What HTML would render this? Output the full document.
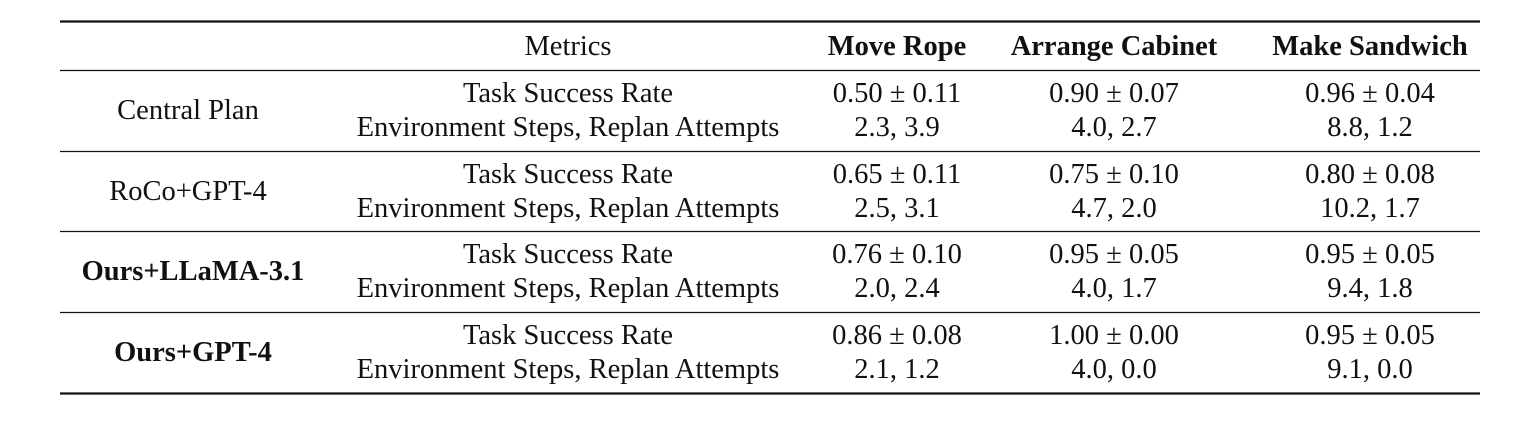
<!DOCTYPE html>
<html><head><meta charset="utf-8"><style>
html,body{margin:0;padding:0;background:#fff;}
svg{display:block;font-family:"Liberation Serif","Times New Roman",serif;}
text{font-size:28.5px;fill:#111;text-anchor:middle;}
.b{font-weight:bold;}
</style></head><body>
<svg width="1536" height="424" viewBox="0 0 1536 424">
<line x1="60" y1="21.5" x2="1480" y2="21.5" stroke="#111" stroke-width="2.2"/>
<line x1="60" y1="70.5" x2="1480" y2="70.5" stroke="#111" stroke-width="1.2"/>
<line x1="60" y1="151.5" x2="1480" y2="151.5" stroke="#111" stroke-width="1.2"/>
<line x1="60" y1="231.5" x2="1480" y2="231.5" stroke="#111" stroke-width="1.2"/>
<line x1="60" y1="312.5" x2="1480" y2="312.5" stroke="#111" stroke-width="1.2"/>
<line x1="60" y1="393.5" x2="1480" y2="393.5" stroke="#111" stroke-width="2.2"/>

<g>
<text x="568" y="55">Metrics</text>
<text x="897" y="55" class="b">Move Rope</text>
<text x="1114" y="55" class="b">Arrange Cabinet</text>
<text x="1370" y="55" class="b">Make Sandwich</text>
</g>

<g>
<text x="188" y="119">Central Plan</text>
<text x="568" y="102">Task Success Rate</text>
<text x="568" y="136">Environment Steps, Replan Attempts</text>
<text x="897" y="102">0.50 ± 0.11</text>
<text x="897" y="136">2.3, 3.9</text>
<text x="1114" y="102">0.90 ± 0.07</text>
<text x="1114" y="136">4.0, 2.7</text>
<text x="1370" y="102">0.96 ± 0.04</text>
<text x="1370" y="136">8.8, 1.2</text>
</g>

<g>
<text x="188" y="200">RoCo+GPT-4</text>
<text x="568" y="183">Task Success Rate</text>
<text x="568" y="217">Environment Steps, Replan Attempts</text>
<text x="897" y="183">0.65 ± 0.11</text>
<text x="897" y="217">2.5, 3.1</text>
<text x="1114" y="183">0.75 ± 0.10</text>
<text x="1114" y="217">4.7, 2.0</text>
<text x="1370" y="183">0.80 ± 0.08</text>
<text x="1370" y="217">10.2, 1.7</text>
</g>

<g>
<text x="193" y="280" class="b">Ours+LLaMA-3.1</text>
<text x="568" y="263">Task Success Rate</text>
<text x="568" y="297">Environment Steps, Replan Attempts</text>
<text x="897" y="263">0.76 ± 0.10</text>
<text x="897" y="297">2.0, 2.4</text>
<text x="1114" y="263">0.95 ± 0.05</text>
<text x="1114" y="297">4.0, 1.7</text>
<text x="1370" y="263">0.95 ± 0.05</text>
<text x="1370" y="297">9.4, 1.8</text>
</g>

<g>
<text x="193" y="361" class="b">Ours+GPT-4</text>
<text x="568" y="344">Task Success Rate</text>
<text x="568" y="378">Environment Steps, Replan Attempts</text>
<text x="897" y="344">0.86 ± 0.08</text>
<text x="897" y="378">2.1, 1.2</text>
<text x="1114" y="344">1.00 ± 0.00</text>
<text x="1114" y="378">4.0, 0.0</text>
<text x="1370" y="344">0.95 ± 0.05</text>
<text x="1370" y="378">9.1, 0.0</text>
</g>
</svg>
</body></html>
